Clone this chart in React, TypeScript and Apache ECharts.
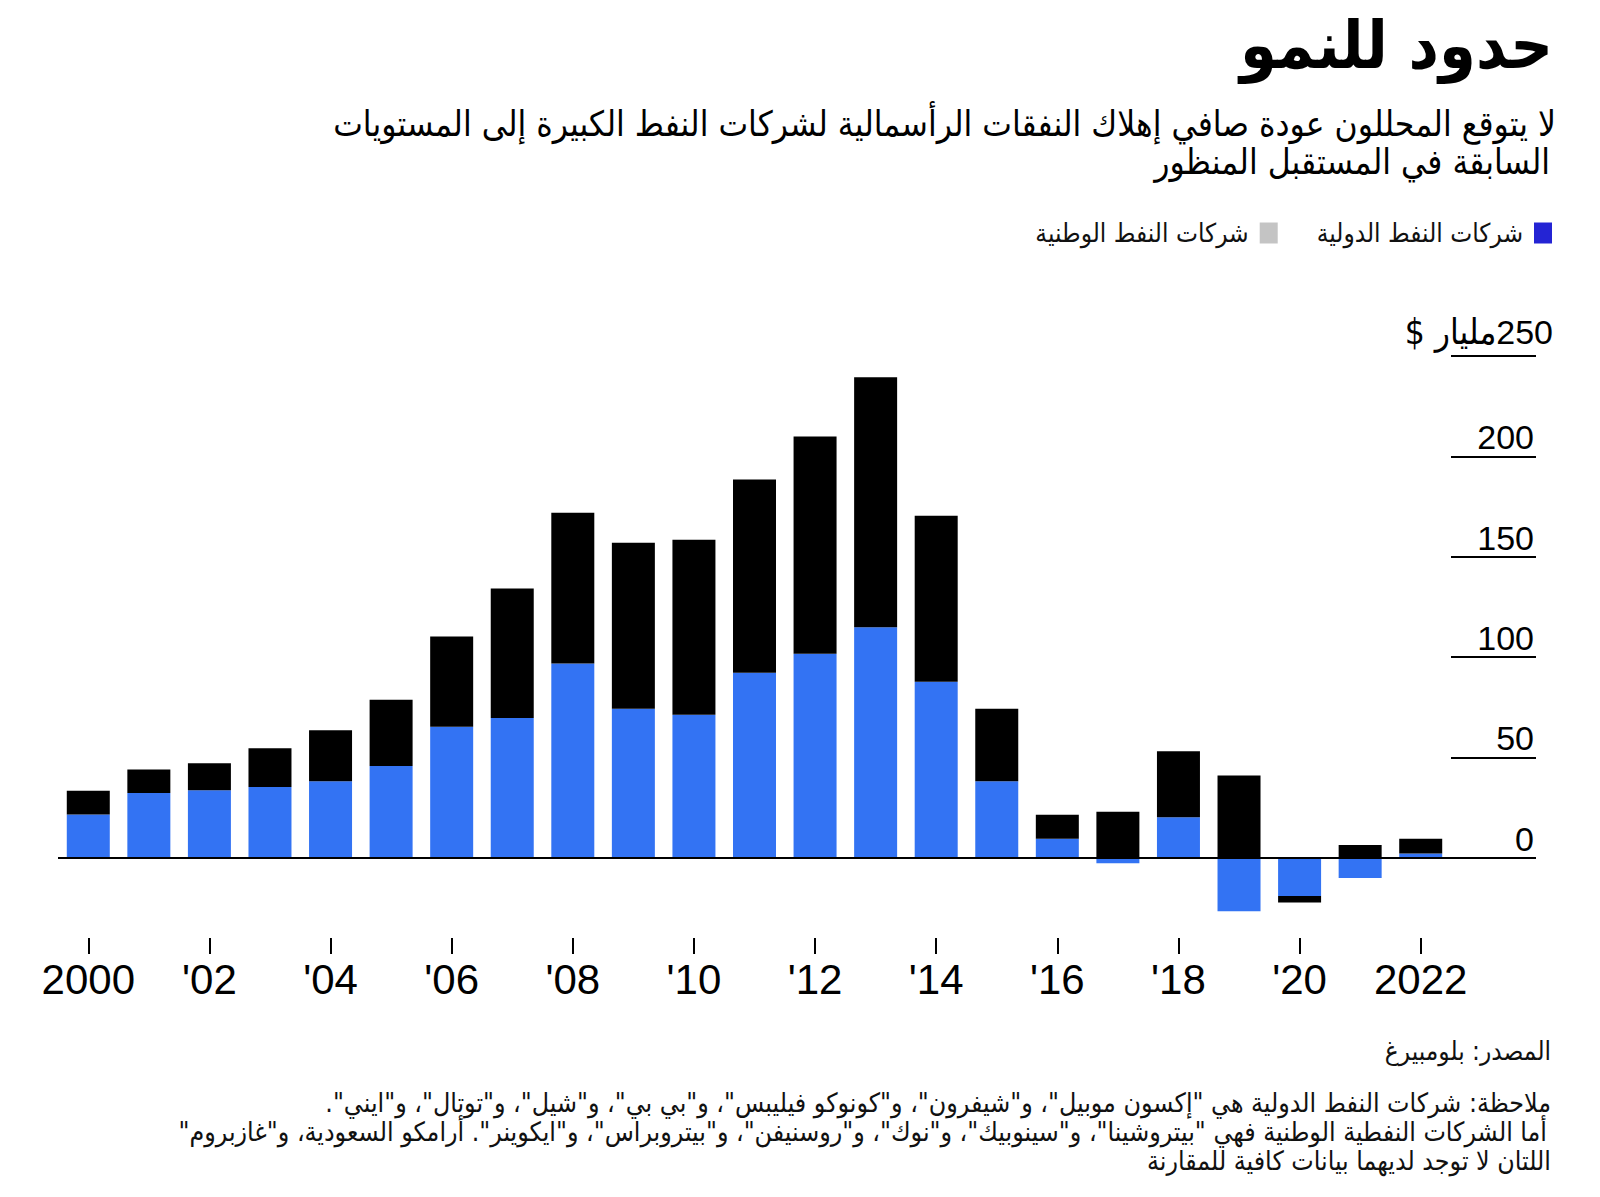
import React, { useEffect, useRef } from "react";
import * as echarts from "echarts";

// ---- data ----
const years = [
  "2000", "2001", "2002", "2003", "2004", "2005", "2006", "2007", "2008", "2009", "2010", "2011",
  "2012", "2013", "2014", "2015", "2016", "2017", "2018", "2019", "2020", "2021", "2022",
];
// International oil companies (billion $)
const iocValues = [
  21.6, 32.2, 33.6, 35.3, 38.1, 45.7, 65.2, 69.6, 96.8, 74.2, 71.3, 92.2,
  101.6, 114.9, 87.7, 38.1, 9.5, -2.7, 20.2, -26.7, -19.1, -10.1, 2.1,
];
// National oil companies (billion $)
const nocValues = [
  11.8, 11.8, 13.5, 19.2, 25.4, 33.0, 45.0, 64.6, 75.1, 82.7, 87.1, 96.3,
  108.3, 124.5, 82.7, 36.1, 11.9, 22.9, 32.8, 41.0, -3.2, 6.3, 7.4,
];
const yTickValues = [0, 50, 100, 150, 200, 250];

const iocName = "شركات النفط الدولية";
const nocName = "شركات النفط الوطنية";
const titleText = "حدود للنمو";
const subtitleLines = [
  "لا يتوقع المحللون عودة صافي إهلاك النفقات الرأسمالية لشركات النفط الكبيرة إلى المستويات",
  "السابقة في المستقبل المنظور",
];
const sourceText = "المصدر: بلومبيرغ";
const noteLines = [
  "ملاحظة: شركات النفط الدولية هي \"إكسون موبيل\"، و\"شيفرون\"، و\"كونوكو فيليبس\"، و\"بي بي\"، و\"شيل\"، و\"توتال\"، و\"ايني\".\u200F",
  "أما الشركات النفطية الوطنية فهي \"بيتروشينا\"، و\"سينوبيك\"، و\"نوك\"، و\"روسنيفن\"، و\"بيتروبراس\"، و\"ايكوينر\". أرامكو السعودية، و\"غازبروم\"\u200F",
  "اللتان لا توجد لديهما بيانات كافية للمقارنة",
];
const unitText = "$ مليار";

const AR_FONT = "'DejaVu Sans Condensed', 'DejaVu Sans', sans-serif";
const NUM_FONT = "'Liberation Sans', Arial, sans-serif";

export default function App() {
  const ref = useRef<HTMLDivElement>(null);

  useEffect(() => {
    document.body.style.margin = "0";
    if (!ref.current) return;
    const chart = echarts.init(ref.current, undefined, { renderer: "svg" });

    const option: any = {
      animation: false,
      backgroundColor: "#ffffff",
      grid: { left: 58, width: 1393, top: 356, height: 582, containLabel: false },
      legend: {
        data: [
          { name: nocName, itemStyle: { color: "#c4c4c4" } },
          { name: iocName, itemStyle: { color: "#2424d4" } },
        ],
        right: 43,
        top: 215,
        align: "right",
        icon: "rect",
        itemWidth: 18,
        itemHeight: 21,
        itemGap: 39,
        selectedMode: false,
        textStyle: { fontSize: 26, fontFamily: AR_FONT, color: "#111", padding: [0, 6, 0, 0] },
      },
      xAxis: {
        type: "category",
        data: years,
        position: "bottom",
        axisLine: { show: false, onZero: false },
        axisTick: {
          show: true,
          interval: 1,
          alignWithLabel: true,
          length: 16,
          lineStyle: { color: "#000", width: 2 },
        },
        axisLabel: {
          interval: 1,
          margin: 20,
          fontSize: 42,
          fontFamily: NUM_FONT,
          color: "#000",
          formatter: (v: string) =>
            v === "2000" || v === "2022" ? v : "'" + v.slice(2),
        },
      },
      yAxis: {
        type: "value",
        position: "right",
        min: -40,
        max: 250,
        axisLine: { show: false },
        splitLine: { show: false },
        axisTick: {
          show: true,
          inside: false,
          length: 85,
          customValues: yTickValues,
          lineStyle: { color: "#000", width: 2 },
        },
        axisLabel: {
          customValues: yTickValues,
          margin: 102,
          align: "right",
          verticalAlign: "bottom",
          formatter: (v: number) =>
            v === 250 ? `{u|${unitText}}{m|${v}}` : `{n|${v}}`,
          rich: {
            n: { fontSize: 34, fontFamily: NUM_FONT, color: "#000", lineHeight: 38, padding: [0, 19, 0, 0] },
            m: { fontSize: 34, fontFamily: NUM_FONT, color: "#000", lineHeight: 48 },
            u: { fontSize: 35, fontFamily: AR_FONT, color: "#000", lineHeight: 48 },
          },
        },
      },
      series: [
        {
          name: iocName,
          type: "bar",
          stack: "total",
          data: iocValues,
          barWidth: 43,
          itemStyle: { color: "#3373f3" },
          markLine: {
            silent: true,
            symbol: "none",
            label: { show: false },
            lineStyle: { color: "#000", width: 2, type: "solid" },
            data: [{ yAxis: 0 }],
          },
        },
        {
          name: nocName,
          type: "bar",
          stack: "total",
          data: nocValues,
          barWidth: 43,
          itemStyle: { color: "#000000" },
        },
      ],
      graphic: [
        {
          type: "text",
          x: 1553,
          y: 45,
          style: {
            text: titleText,
            fontSize: 66,
            fontWeight: "bold",
            fontFamily: AR_FONT,
            fill: "#000",
            align: "right",
            verticalAlign: "middle",
          },
        },
        {
          type: "text",
          x: 1556,
          y: 124,
          style: {
            text: subtitleLines[0],
            fontSize: 35,
            fontFamily: AR_FONT,
            fill: "#000",
            align: "right",
            verticalAlign: "middle",
          },
        },
        {
          type: "text",
          x: 1550,
          y: 162,
          style: {
            text: subtitleLines[1],
            fontSize: 35,
            fontFamily: AR_FONT,
            fill: "#000",
            align: "right",
            verticalAlign: "middle",
          },
        },
        {
          type: "text",
          x: 1551,
          y: 1051,
          style: {
            text: sourceText,
            fontSize: 26,
            fontFamily: AR_FONT,
            fill: "#111",
            align: "right",
            verticalAlign: "middle",
          },
        },
        ...noteLines.map((t, i) => ({
          type: "text",
          x: i === 1 ? 1547 : 1551,
          y: 1102 + i * 29,
          style: {
            text: t,
            fontSize: 26.5,
            fontFamily: AR_FONT,
            fill: "#111",
            align: "right",
            verticalAlign: "middle",
          },
        })),
      ],
    };

    chart.setOption(option);
    return () => chart.dispose();
  }, []);

  return <div ref={ref} style={{ width: 1600, height: 1197 }} />;
}
